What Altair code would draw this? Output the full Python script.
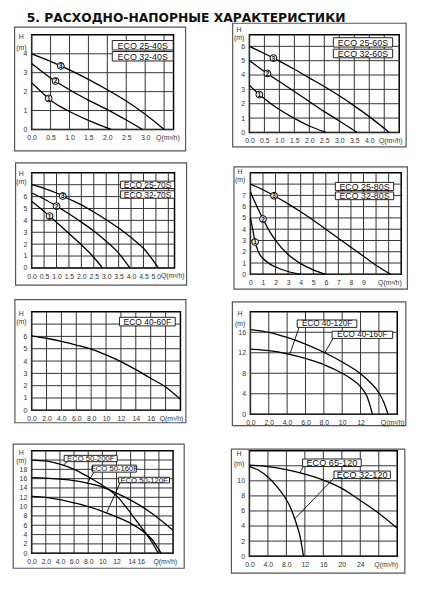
import json
import altair as alt
import pandas as pd

TITLE = "5. РАСХОДНО-НАПОРНЫЕ ХАРАКТЕРИСТИКИ"
Q_LABEL = "Q(m³/h)"

# ---------------- Panel 1: ECO 25-40S / 32-40S ----------------
P1_Q1 = [0, 0.25, 0.5, 0.75, 1.0, 1.5, 2.1]
P1_H1 = [2.47, 2.0, 1.55, 1.22, 0.95, 0.48, 0.0]
P1_Q2 = [0, 0.5, 1.0, 1.5, 2.0, 2.5, 2.93]
P1_H2 = [3.48, 2.72, 2.1, 1.55, 1.05, 0.5, 0.0]
P1_Q3 = [0, 0.5, 1.0, 1.5, 2.0, 2.5, 3.0, 3.5]
P1_H3 = [4.0, 3.6, 3.15, 2.65, 2.1, 1.5, 0.8, 0.0]
P1_MODELS = ["ECO 25-40S", "ECO 32-40S"]
P1_X_TICKS = [0, 0.5, 1.0, 1.5, 2.0, 2.5, 3.0, 3.5]
P1_X_LABELS = ["0.0", "0.5", "1.0", "1.5", "2.0", "2.5", "3.0", ""]
P1_Y_TICKS = [0, 1, 2, 3, 4]
P1_Y_LABELS = ["0", "1", "2", "3", "4"]

# ---------------- Panel 2: ECO 25-60S / 32-60S ----------------
P2_Q1 = [0, 0.25, 0.5, 1.0, 1.5, 2.0, 2.55]
P2_H1 = [3.3, 2.78, 2.35, 1.6, 0.98, 0.45, 0.0]
P2_Q2 = [0, 0.5, 1.0, 1.5, 2.0, 2.5, 3.0, 3.6]
P2_H2 = [5.0, 4.25, 3.55, 2.85, 2.15, 1.45, 0.8, 0.0]
P2_Q3 = [0, 0.5, 1.0, 1.5, 2.0, 2.5, 3.0, 3.5, 4.0, 4.67]
P2_H3 = [6.0, 5.5, 4.97, 4.4, 3.8, 3.2, 2.55, 1.85, 1.1, 0.0]
P2_MODELS = ["ECO 25-60S", "ECO 32-60S"]
P2_X_TICKS = [0, 0.5, 1.0, 1.5, 2.0, 2.5, 3.0, 3.5, 4.0, 4.5]
P2_X_LABELS = ["0.0", "0.5", "1.0", "1.5", "2.0", "2.5", "3.0", "3.5", "4.0", ""]
P2_Y_TICKS = [0, 1, 2, 3, 4, 5, 6]
P2_Y_LABELS = ["0", "1", "2", "3", "4", "5", "6"]

# ---------------- Panel 3: ECO 25-70S / 32-70S ----------------
P3_Q1 = [0, 0.5, 1.0, 1.5, 2.0, 2.5, 2.85]
P3_H1 = [5.6, 4.75, 3.85, 2.9, 1.95, 0.9, 0.0]
P3_Q2 = [0, 0.5, 1.0, 1.5, 2.0, 2.5, 3.0, 3.5, 3.95]
P3_H2 = [6.3, 5.8, 5.2, 4.55, 3.85, 3.1, 2.25, 1.25, 0.0]
P3_Q3 = [0, 0.5, 1.0, 1.5, 2.0, 2.5, 3.0, 3.5, 4.0, 4.5, 5.1]
P3_H3 = [7.0, 6.7, 6.3, 5.8, 5.3, 4.7, 4.05, 3.35, 2.55, 1.65, 0.0]
P3_MODELS = ["ECO 25-70S", "ECO 32-70S"]
P3_X_TICKS = [0, 0.5, 1.0, 1.5, 2.0, 2.5, 3.0, 3.5, 4.0, 4.5, 5.0, 5.5]
P3_X_LABELS = ["0.0", "0.5", "1.0", "1.5", "2.0", "2.5", "3.0", "3.5", "4.0", "4.5", "5.0", ""]
P3_Y_TICKS = [0, 1, 2, 3, 4, 5, 6, 7]
P3_Y_LABELS = ["0", "1", "2", "3", "4", "5", "6", ""]

# ---------------- Panel 4: ECO 25-80S / 32-80S ----------------
P4_Q1 = [0, 0.2, 0.37, 0.6, 0.8, 1.0, 1.5, 2, 3, 4]
P4_H1 = [5.0, 3.9, 2.87, 2.1, 1.65, 1.4, 0.95, 0.65, 0.25, 0.0]
P4_Q2 = [0, 0.5, 1, 1.5, 2, 3, 4, 5, 6]
P4_H2 = [7.3, 6.05, 4.9, 3.85, 3.0, 1.75, 0.95, 0.4, 0.0]
P4_Q3 = [0, 1, 2, 3, 4, 5, 6, 7, 8, 9, 10, 11.15]
P4_H3 = [8.0, 7.5, 6.9, 6.25, 5.55, 4.8, 4.0, 3.2, 2.4, 1.6, 0.8, 0.0]
P4_MODELS = ["ECO 25-80S", "ECO 32-80S"]
P4_X_TICKS = [0, 1, 2, 3, 4, 5, 6, 7, 8, 9, 10, 11]
P4_X_LABELS = ["0", "1", "2", "3", "4", "5", "6", "7", "8", "9", "", ""]
P4_Y_TICKS = [0, 1, 2, 3, 4, 5, 6, 7, 8]
P4_Y_LABELS = ["0", "1", "2", "3", "4", "5", "6", "7", ""]

# ---------------- Panel 5: ECO 40-60F ----------------
P5_Q = [0, 2, 4, 6, 8, 10, 12, 14, 16, 18, 20]
P5_H = [6.05, 5.85, 5.6, 5.3, 4.97, 4.5, 3.95, 3.3, 2.6, 1.9, 0.9]
P5_MODELS = ["ECO 40-60F"]
P5_X_TICKS = [0, 2, 4, 6, 8, 10, 12, 14, 16, 18]
P5_X_LABELS = ["0.0", "2.0", "4.0", "6.0", "8.0", "10", "12", "14", "16", ""]
P5_Y_TICKS = [0, 1, 2, 3, 4, 5, 6, 7]
P5_Y_LABELS = ["0", "1", "2", "3", "4", "5", "6", ""]

# ---------------- Panel 6: ECO 40-120F / 40-160F ----------------
P6_Q120 = [0, 2, 4, 6, 8, 10, 11, 12, 12.7, 13.3]
P6_H120 = [12.7, 12.4, 11.8, 10.9, 9.7, 8.0, 6.9, 5.4, 3.5, 0.0]
P6_Q160 = [0, 2, 4, 6, 8, 10, 12, 13, 14, 14.5, 15.0]
P6_H160 = [16.5, 16.0, 15.0, 13.7, 12.1, 10.2, 7.9, 6.3, 4.2, 2.5, 0.0]
P6_MODELS = ["ECO 40-120F", "ECO 40-160F"]
P6_X_TICKS = [0, 2, 4, 6, 8, 10, 12, 14]
P6_X_LABELS = ["0.0", "2.0", "4.0", "6.0", "8.0", "10", "12", ""]
P6_Y_TICKS = [0, 4, 8, 12, 16]
P6_Y_LABELS = ["0", "4", "8", "12", "16"]

# ---------------- Panel 7: ECO 50-200F / 50-160F / 50-120F ----------------
P7_Q200 = [0, 2, 4, 6, 8, 10, 12, 13, 14, 15, 16, 17, 17.9]
P7_H200 = [20.0, 19.8, 19.1, 18.0, 16.4, 14.6, 12.3, 10.6, 8.6, 6.6, 4.6, 2.4, 0.0]
P7_Q160 = [0, 2, 4, 6, 8, 10, 12, 14, 16, 18, 20]
P7_H160 = [16.2, 16.1, 15.9, 15.6, 15.0, 14.2, 12.9, 11.4, 9.6, 7.4, 4.9]
P7_Q120 = [0, 2, 4, 6, 8, 10, 12, 14, 16, 17, 18.3]
P7_H120 = [12.2, 12.0, 11.5, 10.8, 10.0, 9.0, 7.8, 6.4, 4.4, 3.0, 0.0]
P7_MODELS = ["ECO 50-200F", "ECO 50-160F", "ECO 50-120F"]
P7_X_TICKS = [0, 2, 4, 6, 8, 10, 12, 14, 16, 18]
P7_X_LABELS = ["0.0", "2.0", "4.0", "6.0", "8.0", "10", "12", "", "", ""]
P7_X_EXTRA = ["14", "16"]
P7_Y_TICKS = [0, 2, 4, 6, 8, 10, 12, 14, 16, 18, 20]
P7_Y_LABELS = ["0", "2", "4", "6", "8", "10", "12", "14", "16", "18", ""]

# ---------------- Panel 8: ECO 65-120 / 32-120 ----------------
P8_Q65 = [0, 4, 8, 12, 16, 20, 24, 28, 32]
P8_H65 = [12.1, 11.9, 11.5, 10.9, 10.1, 9.0, 7.4, 5.7, 3.7]
P8_Q32 = [0, 2, 4, 6, 8, 9, 10, 11, 11.7]
P8_H32 = [11.9, 11.4, 10.5, 9.2, 7.5, 6.3, 4.6, 2.5, 0.0]
P8_MODELS = ["ECO 65-120", "ECO 32-120"]
P8_X_TICKS = [0, 4, 8, 12, 16, 20, 24, 28]
P8_X_LABELS = ["0.0", "4.0", "8.0", "12", "16", "20", "24", ""]
P8_Y_TICKS = [0, 2, 4, 6, 8, 10, 12]
P8_Y_LABELS = ["0", "2", "4", "6", "8", "10", ""]

FONT = "Liberation Sans"
LABEL_PAD = 4.5
GRID_C = "#333333"


def lexpr(ticks, labels):
    return "%s[indexof(%s, datum.value)]" % (
        json.dumps(labels, ensure_ascii=False), json.dumps(ticks))


def panel(p):
    w, h = p["w"], p["h"]
    fl, ft, fr, fb = p["frame"]
    x0, x1 = p["xdom"]
    y0, y1 = p["ydom"]
    xs = alt.Scale(domain=[x0, x1], nice=False, zero=False)
    ys = alt.Scale(domain=[y0, y1], nice=False, zero=False)
    xaxis = alt.Axis(values=p["xt"], labelExpr=lexpr(p["xt"], p["xl"]), grid=False,
                     ticks=False, domain=False,
                     labelFontSize=7, labelColor="#333", labelPadding=LABEL_PAD,
                     labelFlush=False, labelOverlap=False, title=None, labelFont=FONT)
    yaxis = alt.Axis(values=p["yt"], labelExpr=lexpr(p["yt"], p["yl"]), grid=False,
                     ticks=False, domain=False,
                     labelFontSize=7, labelColor="#333", labelPadding=5,
                     labelOverlap=False, labelFont=FONT,
                     title=["H", "(m)"], titleAngle=0, titleAlign="center",
                     titleBaseline="top", titleX=-11, titleY=p["ty"], titleFontSize=7,
                     titleFontWeight="normal", titleLineHeight=p["tlh"], titleColor="#333",
                     titleFont=FONT)

    def X(field):
        return alt.X(field, scale=xs, axis=xaxis)

    def Y(field):
        return alt.Y(field, scale=ys, axis=yaxis)

    # grid lines drawn from the tick arrays, spanning the scale domains
    gx = pd.DataFrame({"q": p["xt"], "ga": y0, "gb": y1})
    gy = pd.DataFrame({"h": p["yt"], "ga": x0, "gb": x1})
    vgrid = alt.Chart(gx).mark_rule(color=GRID_C, strokeWidth=1).encode(
        x=X("q:Q"), y=Y("ga:Q"), y2="gb:Q")
    hgrid = alt.Chart(gy).mark_rule(color=GRID_C, strokeWidth=1).encode(
        y=Y("h:Q"), x=X("ga:Q"), x2="gb:Q")

    rows = []
    for name, qs, hs in p["curves"]:
        for i, (q, hh) in enumerate(zip(qs, hs)):
            rows.append({"c": name, "i": i, "q": q, "h": hh})
    cdf = pd.DataFrame(rows)
    lines = alt.Chart(cdf).mark_line(color="black", strokeWidth=1.3, interpolate="monotone").encode(
        x=X("q:Q"), y=Y("h:Q"), detail="c:N", order="i:Q")

    one = pd.DataFrame({"k": [0]})
    frame = alt.Chart(one).mark_rect(fillOpacity=0, stroke="#555", strokeWidth=1.2).encode(
        x=alt.value(-fl), x2=alt.value(w + fr), y=alt.value(-ft), y2=alt.value(h + fb))
    layers = [vgrid, hgrid, lines, frame]

    if p.get("leaders"):
        ldf = pd.DataFrame(p["leaders"], columns=["q", "h", "xb", "yb"])
        layers.append(alt.Chart(ldf).mark_rule(color="black", strokeWidth=0.9).encode(
            x=X("q:Q"), y=Y("h:Q"), x2="xb:Q", y2="yb:Q"))

    bdf = pd.DataFrame(p["boxes"], columns=["q", "x1", "h", "y1", "t"])
    bdf["xm"] = (bdf.q + bdf.x1) / 2
    bdf["ym"] = (bdf.h + bdf.y1) / 2
    layers.append(alt.Chart(bdf).mark_rect(fill="white", stroke="#222", strokeWidth=1).encode(
        x=X("q:Q"), x2="x1:Q", y=Y("h:Q"), y2="y1:Q"))
    layers.append(alt.Chart(bdf).mark_text(font=FONT, fontSize=p["bfs"], color="#111",
                                            align="center", baseline="middle", dy=0.5).encode(
        x=X("xm:Q"), y=Y("ym:Q"), text="t:N"))

    if p.get("circles"):
        odf = pd.DataFrame(p["circles"], columns=["q", "h", "n"])
        layers.append(alt.Chart(odf).mark_point(shape="circle", filled=True, fill="#f2f2f2",
                                                 stroke="black", strokeWidth=1, size=48, opacity=1).encode(
            x=X("q:Q"), y=Y("h:Q")))
        layers.append(alt.Chart(odf).mark_text(font=FONT, fontSize=6.5, fontWeight="bold",
                                                color="black", baseline="middle", dy=0.5).encode(
            x=X("q:Q"), y=Y("h:Q"), text="n:N"))

    tdf = pd.DataFrame(p["xtext"], columns=["q", "t"])
    layers.append(alt.Chart(tdf).mark_text(font=FONT, fontSize=7, color="#333",
                                            align="center", baseline="top").encode(
        x=X("q:Q"), y=alt.value(h + LABEL_PAD), text="t:N"))

    return alt.layer(*layers).properties(width=w, height=h)


PANELS = [
    dict(w=144, h=96, xdom=[0, 3.75], ydom=[0, 5], frame=(17.3, 7.8, 12.2, 21.7), ty=-1.8, tlh=11,
         xt=P1_X_TICKS, xl=P1_X_LABELS, yt=P1_Y_TICKS, yl=P1_Y_LABELS,
         curves=[("1", P1_Q1, P1_H1), ("2", P1_Q2, P1_H2), ("3", P1_Q3, P1_H3)],
         circles=[(0.45, 1.64, "1"), (0.63, 2.56, "2"), (0.77, 3.36, "3")],
         boxes=[(2.13, 3.74, 4.2, 4.7, P1_MODELS[0]), (2.13, 3.74, 3.62, 4.12, P1_MODELS[1])],
         bfs=9, xtext=[(3.6, Q_LABEL)]),
    dict(w=152, h=99, xdom=[0, 5], ydom=[0, 6.8], frame=(17, 11.8, 7, 14.7), ty=-9.5, tlh=8.5,
         xt=P2_X_TICKS, xl=P2_X_LABELS, yt=P2_Y_TICKS, yl=P2_Y_LABELS,
         curves=[("1", P2_Q1, P2_H1), ("2", P2_Q2, P2_H2), ("3", P2_Q3, P2_H3)],
         circles=[(0.33, 2.64, "1"), (0.6, 4.11, "2"), (0.8, 5.18, "3")],
         boxes=[(2.8, 4.78, 5.95, 6.6, P2_MODELS[0]), (2.8, 4.78, 5.2, 5.8, P2_MODELS[1])],
         bfs=9, xtext=[(4.72, Q_LABEL)]),
    dict(w=145, h=96.5, xdom=[0, 5.75], ydom=[0, 8], frame=(16.3, 10, 12.2, 17.5), ty=-2.8, tlh=8,
         xt=P3_X_TICKS, xl=P3_X_LABELS, yt=P3_Y_TICKS, yl=P3_Y_LABELS,
         curves=[("1", P3_Q1, P3_H1), ("2", P3_Q2, P3_H2), ("3", P3_Q3, P3_H3)],
         circles=[(0.72, 4.36, "1"), (1.0, 5.2, "2"), (1.25, 6.05, "3")],
         boxes=[(3.58, 5.75, 6.68, 7.3, P3_MODELS[0]), (3.58, 5.75, 5.86, 6.49, P3_MODELS[1])],
         bfs=8.5, xtext=[(5.68, Q_LABEL)]),
    dict(w=153, h=103, xdom=[0, 12], ydom=[0, 9], frame=(16.7, 6, 6.3, 15), ty=-5.3, tlh=8.5,
         xt=P4_X_TICKS, xl=P4_X_LABELS, yt=P4_Y_TICKS, yl=P4_Y_LABELS,
         curves=[("1", P4_Q1, P4_H1), ("2", P4_Q2, P4_H2), ("3", P4_Q3, P4_H3)],
         circles=[(0.37, 2.87, "1"), (1.0, 4.9, "2"), (1.88, 6.97, "3")],
         boxes=[(6.76, 11.4, 7.43, 8.15, P4_MODELS[0]), (6.76, 11.4, 6.62, 7.3, P4_MODELS[1])],
         bfs=9, xtext=[(11.1, Q_LABEL)]),
    dict(w=151, h=100, xdom=[0, 20], ydom=[0, 8], frame=(17, 12.4, 5.5, 12.6), ty=-1.9, tlh=8,
         xt=P5_X_TICKS, xl=P5_X_LABELS, yt=P5_Y_TICKS, yl=P5_Y_LABELS,
         curves=[("a", P5_Q, P5_H)],
         boxes=[(11.8, 19.3, 6.85, 7.55, P5_MODELS[0])],
         bfs=8.6, xtext=[(18.8, Q_LABEL)]),
    dict(w=149, h=104, xdom=[0, 16], ydom=[0, 20], frame=(18.3, 10, 8.7, 11.5), ty=-1.8, tlh=10,
         xt=P6_X_TICKS, xl=P6_X_LABELS, yt=P6_Y_TICKS, yl=P6_Y_LABELS,
         curves=[("a", P6_Q120, P6_H120), ("b", P6_Q160, P6_H160)],
         leaders=[(5.3, 16.95, 4.3, 11.75), (9.0, 14.8, 8.1, 12.0)],
         boxes=[(5.1, 11.6, 16.95, 18.4, P6_MODELS[0]), (8.9, 15.5, 14.8, 16.2, P6_MODELS[1])],
         bfs=8.3, xtext=[(15.5, Q_LABEL)]),
    dict(w=143.5, h=104, xdom=[0, 20], ydom=[0, 22], frame=(18.7, 6.7, 11.3, 15.3), ty=-1.8, tlh=7.5,
         xt=P7_X_TICKS, xl=P7_X_LABELS, yt=P7_Y_TICKS, yl=P7_Y_LABELS,
         curves=[("a", P7_Q200, P7_H200), ("b", P7_Q160, P7_H160), ("c", P7_Q120, P7_H120)],
         leaders=[(5.0, 19.65, 4.5, 18.85), (8.8, 17.4, 7.9, 15.05), (12.5, 15.1, 10.6, 8.64)],
         boxes=[(4.6, 12.1, 19.65, 21.0, P7_MODELS[0]), (8.6, 14.8, 17.4, 18.9, P7_MODELS[1]),
                (12.3, 19.5, 15.1, 16.3, P7_MODELS[2])],
         bfs=7.8, xtext=[(14.2, P7_X_EXTRA[0]), (15.5, P7_X_EXTRA[1]), (18.9, Q_LABEL)]),
    dict(w=150, h=107, xdom=[0, 32], ydom=[0, 14], frame=(18.3, 1.7, 7.7, 17.3), ty=-1.2, tlh=10,
         xt=P8_X_TICKS, xl=P8_X_LABELS, yt=P8_Y_TICKS, yl=P8_Y_LABELS,
         curves=[("a", P8_Q65, P8_H65), ("b", P8_Q32, P8_H32)],
         leaders=[(11.7, 11.9, 10.9, 11.07), (18.5, 10.5, 9.8, 4.94)],
         boxes=[(11.5, 24.2, 11.9, 12.9, P8_MODELS[0]), (18.3, 30.5, 10.3, 11.3, P8_MODELS[1])],
         bfs=9.3, xtext=[(29.6, Q_LABEL)]),
]

charts = [panel(p) for p in PANELS]
H_SP = 44
row1 = alt.hconcat(charts[0], charts[1], spacing=H_SP)
row2 = alt.hconcat(charts[2], charts[3], spacing=H_SP)
row3 = alt.hconcat(charts[4], charts[5], spacing=H_SP)
row4 = alt.hconcat(charts[6], charts[7], spacing=H_SP)

chart = alt.vconcat(
    alt.vconcat(row1, row2, spacing=8),
    alt.vconcat(row3, row4, spacing=15),
    spacing=7,
).properties(
    title=alt.TitleParams(TITLE, anchor="start", dx=15, offset=-3, fontSize=12.5,
                          font="DejaVu Sans", fontWeight="bold", color="#111"),
    padding={"left": 3, "top": 0, "right": 5, "bottom": 5},
    background="white",
).configure_view(stroke="black", strokeWidth=1.5)

chart.save("out.html", embed_options={"renderer": "svg", "actions": False})
